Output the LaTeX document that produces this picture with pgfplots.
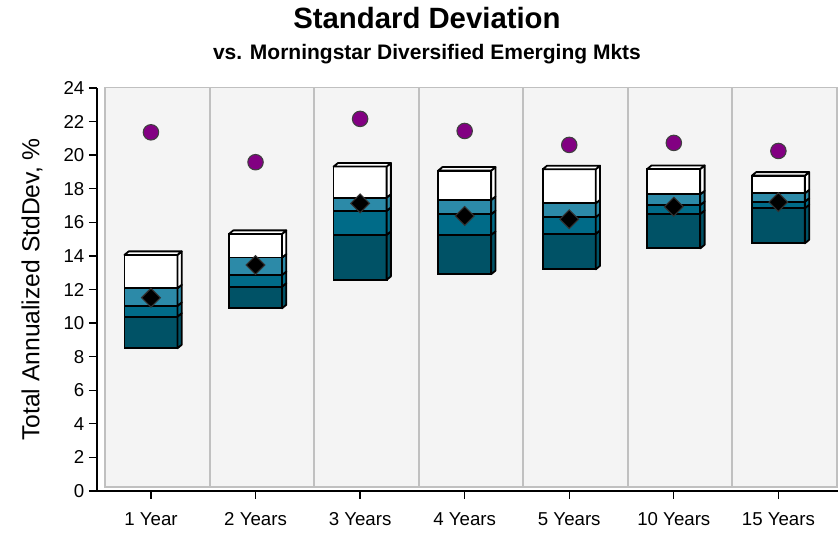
\documentclass[border=0pt]{standalone}
\usepackage{fontspec}
\setmainfont{Liberation Sans}
\usepackage{pgfplots}
\pgfplotsset{compat=1.18}
\usepackage{pgfplotstable}

\definecolor{panel}{HTML}{F4F4F4}
\definecolor{panelline}{HTML}{C0C0C0}
\definecolor{segA}{HTML}{005266}
\definecolor{segB}{HTML}{006B88}
\definecolor{segC}{HTML}{2C8AA8}
\definecolor{dotpurple}{HTML}{820082}

% lo = bottom, q1/med/q3 = segment edges, hi = top of box
\pgfplotstableread{
pos lo q1 med q3 hi diam circ
0 8.50 10.38 11.02 12.07 14.06 11.51 21.36
1 10.88 12.17 12.86 13.90 15.31 13.46 19.58
2 12.57 15.25 16.68 17.47 19.32 17.13 22.16
3 12.91 15.25 16.48 17.33 19.08 16.38 21.44
4 13.20 15.31 16.30 17.13 19.16 16.18 20.61
5 14.45 16.50 17.03 17.67 19.18 16.93 20.73
6 14.75 16.84 17.23 17.73 18.78 17.20 20.25
}\stddata

\pgfplotsset{
  common/.style={
    at={(0,0)}, anchor=south west, scale only axis,
    width=555.75pt, height=302.25pt,
    xmin=-0.516, xmax=6.57, ymin=0, ymax=24,
  },
  edge/.style={draw=black, line width=1.35pt, line join=round, forget plot},
}

% right side and top of one box (3d look)
\newcommand\sidefaces[1]{%
  \pgfplotstablegetelem{#1}{lo}\of\stddata \let\vlo\pgfplotsretval
  \pgfplotstablegetelem{#1}{q1}\of\stddata \let\vqa\pgfplotsretval
  \pgfplotstablegetelem{#1}{med}\of\stddata \let\vqb\pgfplotsretval
  \pgfplotstablegetelem{#1}{q3}\of\stddata \let\vqc\pgfplotsretval
  \pgfplotstablegetelem{#1}{hi}\of\stddata \let\vhi\pgfplotsretval
  \pgfmathsetmacro\xl{#1-0.2535}\pgfmathsetmacro\xr{#1+0.2535}
  \pgfmathsetmacro\xlb{\xl+0.041}\pgfmathsetmacro\xrb{\xr+0.041}
  \pgfmathsetmacro\ulo{\vlo+0.21}\pgfmathsetmacro\uqa{\vqa+0.21}
  \pgfmathsetmacro\uqb{\vqb+0.21}\pgfmathsetmacro\uqc{\vqc+0.21}
  \pgfmathsetmacro\uhi{\vhi+0.21}
  \edef\tmp{%
    \noexpand\addplot[edge, fill=segA] coordinates {(\xr,\vlo) (\xrb,\ulo) (\xrb,\uqa) (\xr,\vqa)} -- cycle;
    \noexpand\addplot[edge, fill=segB] coordinates {(\xr,\vqa) (\xrb,\uqa) (\xrb,\uqb) (\xr,\vqb)} -- cycle;
    \noexpand\addplot[edge, fill=segC] coordinates {(\xr,\vqb) (\xrb,\uqb) (\xrb,\uqc) (\xr,\vqc)} -- cycle;
    \noexpand\addplot[edge, fill=white] coordinates {(\xr,\vqc) (\xrb,\uqc) (\xrb,\uhi) (\xr,\vhi)} -- cycle;
    \noexpand\addplot[edge, fill=white] coordinates {(\xl,\vhi) (\xlb,\uhi) (\xrb,\uhi) (\xr,\vhi)} -- cycle;
  }\tmp
}

\begin{document}
\begin{tikzpicture}
\useasboundingbox (-72.75pt,-32.25pt) rectangle (557.25pt,368.25pt);

% grey panels behind everything
\begin{axis}[common, hide axis]
  \draw[panelline, fill=panel, line width=1.5pt] (axis cs:-0.44,0.22) rectangle (axis cs:6.56,24.05);
  \pgfplotsinvokeforeach{0.56,1.56,2.56,3.56,4.56,5.56}{
    \draw[panelline, line width=1.5pt] (axis cs:#1,0.22) -- (axis cs:#1,24.05);
  }
\end{axis}

% front of the boxes
\begin{axis}[common, hide axis, ybar stacked, bar width=0.507,
  every axis plot/.append style={draw=black, line width=1.35pt}]
  \addplot[draw=none, fill=none] table[x=pos, y=lo] {\stddata};
  \addplot[fill=segA] table[x=pos, y expr=\thisrow{q1}-\thisrow{lo}] {\stddata};
  \addplot[fill=segB] table[x=pos, y expr=\thisrow{med}-\thisrow{q1}] {\stddata};
  \addplot[fill=segC] table[x=pos, y expr=\thisrow{q3}-\thisrow{med}] {\stddata};
  \addplot[fill=white] table[x=pos, y expr=\thisrow{hi}-\thisrow{q3}] {\stddata};
\end{axis}

\begin{axis}[common, clip=false,
  axis lines=left, axis line style={-, black, line width=1.2pt},
  tick align=outside, major tick length=6pt,
  tick style={black, line width=1pt},
  ytick={0,2,...,24},
  xtick={0,...,6},
  xticklabels={1 Year, 2 Years, 3 Years, 4 Years, 5 Years, 10 Years, 15 Years},
  tick label style={font=\fontsize{14}{16}\selectfont},
  xticklabel style={yshift=-6.5pt},
  /pgf/number format/assume math mode=true,
  ylabel={Total Annualized StdDev, \%},
  ylabel style={at={(axis description cs:-0.0877,0.5)}, anchor=center,
    font=\fontsize{18.5}{22}\selectfont},
  ]
  \pgfplotsinvokeforeach{0,...,6}{\sidefaces{#1}}
  \addplot[only marks, mark=square*, mark size=5pt,
    mark options={rotate=45, fill=black, draw=black!80, line width=0.8pt}]
    table[x=pos, y=diam] {\stddata};
  \addplot[only marks, mark=*, mark size=5.8pt,
    mark options={fill=dotpurple, draw=black!75, line width=0.8pt}]
    table[x=pos, y=circ] {\stddata};
  \node[font=\fontsize{22}{26}\selectfont\bfseries, anchor=base]
    at (axis description cs:0.4453,1.1488) {Standard Deviation};
  \node[font=\fontsize{15.75}{19}\selectfont\bfseries, anchor=base]
    at (axis description cs:0.4453,1.070) {vs. Morningstar Diversified Emerging Mkts};
\end{axis}
\end{tikzpicture}
\end{document}
